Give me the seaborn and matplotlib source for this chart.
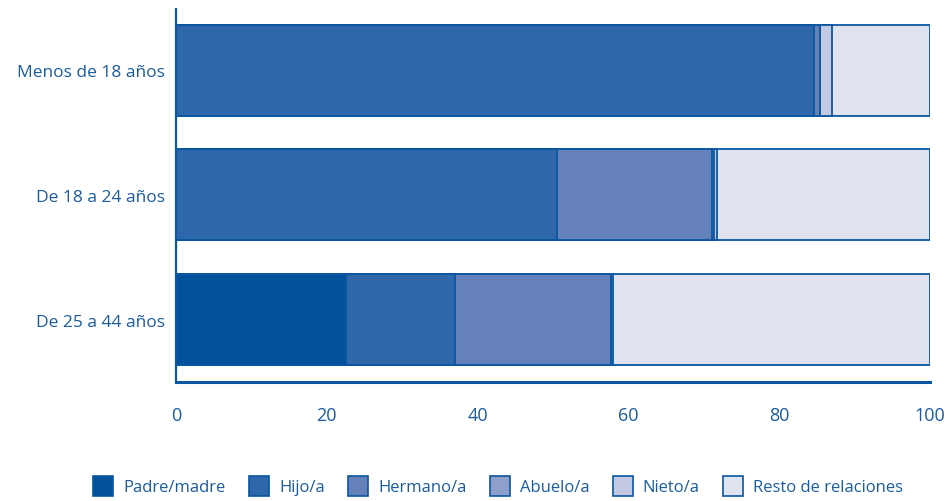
import numpy as np
import pandas as pd
import matplotlib
matplotlib.use("Agg")
import matplotlib.pyplot as plt
import seaborn as sns
from matplotlib.patches import Patch

grupos = ["Menos de 18 años", "De 18 a 24 años", "De 25 a 44 años"]
relaciones = ["Padre/madre", "Hijo/a", "Hermano/a", "Abuelo/a", "Nieto/a", "Resto de relaciones"]

padre = [0.0, 0.0, 22.5]
hijo = [84.6, 50.5, 14.5]
hermano = [0.8, 20.6, 20.7]
abuelo = [0.0, 0.2, 0.0]
nieto = [1.6, 0.5, 0.3]
resto = [13.0, 28.2, 42.0]

colores = ["#02519B", "#2E67AA", "#6581B9", "#8E9FCB", "#C3C8E3", "#DEE3EF"]
azul = "#0A56A0"
texto = "#1A5C9E"

sns.set_style("white")
plt.rcParams["font.family"] = ["Open Sans", "DejaVu Sans"]

df = pd.DataFrame({"Grupo": grupos, "Padre/madre": padre, "Hijo/a": hijo,
                   "Hermano/a": hermano, "Abuelo/a": abuelo, "Nieto/a": nieto,
                   "Resto de relaciones": resto})
acumulado = df[relaciones].cumsum(axis=1)

fig = plt.figure(figsize=(9.49, 5.02), dpi=100)
ax = fig.add_axes([0.1855, 0.237, 0.7945, 0.743])

# barras apiladas: se dibuja de la suma total hacia atrás
for rel, color in reversed(list(zip(relaciones, colores))):
    sns.barplot(x=acumulado[rel], y=df["Grupo"], orient="h", color=color,
                edgecolor=azul, linewidth=1.3, width=0.73, ax=ax, saturation=1)

ax.set_xlim(0, 100)
ax.set_ylim(2.5, -0.49)
ax.set_xticks([0, 20, 40, 60, 80, 100])
ax.set_xlabel("")
ax.set_ylabel("")
ax.tick_params(axis="both", length=0, labelcolor=texto)
ax.tick_params(axis="x", pad=17, labelsize=13)
ax.tick_params(axis="y", pad=8, labelsize=12.5)
for lado in ["top", "right"]:
    ax.spines[lado].set_visible(False)
for lado in ["left", "bottom"]:
    ax.spines[lado].set_color(azul)
ax.spines["left"].set_linewidth(1.6)
ax.spines["bottom"].set_linewidth(2.2)

handles = [Patch(facecolor=c, edgecolor=azul, linewidth=1.2, label=r)
           for r, c in zip(relaciones, colores)]
leg = fig.legend(handles=handles, loc="center", bbox_to_anchor=(0.525, 0.03),
                 ncol=6, frameon=False, fontsize=12, handlelength=1.2,
                 handleheight=1.5, columnspacing=1.4, handletextpad=0.6)
for t in leg.get_texts():
    t.set_color(texto)

fig.savefig("out.png", dpi=100)
